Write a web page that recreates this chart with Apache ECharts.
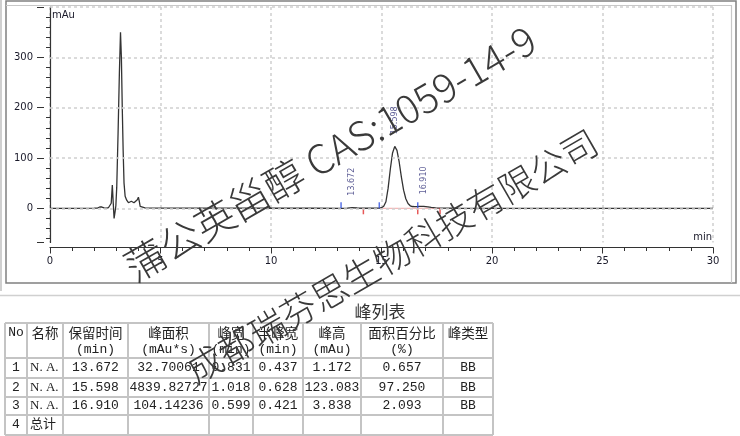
<!DOCTYPE html>
<html><head><meta charset="utf-8">
<script src="https://cdn.jsdelivr.net/npm/echarts@6/dist/echarts.min.js"></script>
<style>html,body{margin:0;padding:0;background:#fff}#c{width:740px;height:436px}</style>
</head><body><div id="c"></div>
<script>
// ---- chromatogram data ----
const traceTime = [0,1.0,2.0,2.15,2.25,2.35,2.45,2.55,2.65,2.72,2.77,2.82,2.86,2.90,2.95,2.98,3.02,3.08,3.14,3.19,3.23,3.27,3.31,3.35,3.40,3.47,3.55,3.62,3.68,3.74,3.80,3.88,3.95,4.00,4.04,4.08,4.15,4.30,5.0,6.0,8.0,10.0,12.0,13.2,13.45,13.67,13.9,14.2,14.9,15.0,15.1,15.2,15.3,15.4,15.5,15.6,15.7,15.8,15.9,16.0,16.1,16.2,16.3,16.4,16.5,16.6,16.7,16.8,16.91,17.0,17.1,17.25,17.45,17.7,18.5,20,25,30];
const traceSignal = [0,0,0.2,0.5,2.5,2.5,1.0,0.5,1.5,2.5,10,46,12,-20,-5,5,42,149,270,350,300,200,115,50,24,16,11,12,14,16,11,12,17,22,14,4,1.5,0.8,0.4,0.3,0.2,0.1,0.1,0,0.5,1.2,0.6,0.1,0.2,1.2,4,13,40,78,110,123,115,92,62,36,19,9.5,5,3.5,3.2,3.3,3.6,3.8,3.84,3.4,2.6,1.6,0.8,0.3,0.1,0,0,0];
const peakRT = [13.672, 15.598, 16.910];
const peakHeight = [1.172, 123.083, 3.838];
const peakStart = [13.17, 14.90, 16.64];
const peakEnd = [14.18, 16.64, 17.65];
const baselineTime = [14.90, 17.65];
const baselineSignal = [0, 0];
const yLabelValues = [0, 100, 200, 300];
const yMajorTicks = [-68, 0, 100, 200, 300, 400];
const yMinorTicks = [-60,-40,-20,20,40,60,80,120,140,160,180,220,240,260,280,320,340,360,380];
const yGridValues = [0, 100, 200, 300, 400];

// ---- peak table ----
const tableTitle = '峰列表';
const headerLine1 = ['No','名称','保留时间','峰面积','峰宽','半峰宽','峰高','面积百分比','峰类型'];
const headerLine2 = ['','','(min)','(mAu*s)','(min)','(min)','(mAu)','(%)',''];
const colNo = ['1','2','3','4'];
const colName = ['N. A.','N. A.','N. A.','总计'];
const colRetTime = ['13.672','15.598','16.910',''];
const colArea = ['32.70061','4839.82727','104.14236',''];
const colWidth = ['0.831','1.018','0.599',''];
const colHalfWidth = ['0.437','0.628','0.421',''];
const colHeight = ['1.172','123.083','3.838',''];
const colAreaPct = ['0.657','97.250','2.093',''];
const colType = ['BB','BB','BB',''];

const watermark1 = '蒲公英甾醇 CAS:1059-14-9';
const watermark2 = '成都瑞芬思生物科技有限公司';

const chart = echarts.init(document.getElementById('c'));
const axisFont = 'DejaVu Sans';
const tblFont = '"Liberation Mono", "Noto Sans CJK SC", monospace';

const graphics = [];
// frames
graphics.push({type:'line', shape:{x1:1,y1:0,x2:1,y2:291}, style:{stroke:'#c0c0c0', lineWidth:1.5}});
graphics.push({type:'rect', shape:{x:6,y:1,width:730,height:282}, style:{stroke:'#808080', fill:null, lineWidth:1.5}});
graphics.push({type:'polyline', shape:{points:[[6,5.5],[731.5,5.5],[731.5,283]]}, style:{stroke:'#c8c8c8', fill:null, lineWidth:1.2}});
graphics.push({type:'line', shape:{x1:0,y1:295.5,x2:740,y2:295.5}, style:{stroke:'#d0d0d0', lineWidth:1.5}});
graphics.push({type:'text', x:52, y:15, style:{text:'mAu', fontSize:10, fontFamily:axisFont, fill:'#1a1a2a', verticalAlign:'middle'}});
graphics.push({type:'text', x:712, y:237, style:{text:'min', fontSize:10, fontFamily:axisFont, fill:'#1a1a2a', align:'right', verticalAlign:'middle'}});

// table
const colX = [5, 27, 63, 128, 209, 253, 303, 361, 443, 493];
const rowY = [323, 358, 378, 397, 415, 435];
graphics.push({type:'text', x:380, y:312, style:{text:tableTitle, fontSize:17, fontFamily:'Noto Sans CJK SC', fill:'#333', align:'center', verticalAlign:'middle'}});
rowY.forEach(y => graphics.push({type:'line', shape:{x1:colX[0],y1:y,x2:colX[colX.length-1],y2:y}, style:{stroke:'#c4c4c4', lineWidth:2}}));
colX.forEach(x => graphics.push({type:'line', shape:{x1:x,y1:rowY[0],x2:x,y2:rowY[rowY.length-1]}, style:{stroke:'#c4c4c4', lineWidth:2}}));
const tstyle = (text, align, font, size) => ({text, fontSize:size||13, fontFamily:font||tblFont, fill:'#222', align:align||'center', verticalAlign:'middle'});
headerLine1.forEach((h,i) => {
  const cx = (colX[i]+colX[i+1])/2;
  graphics.push({type:'text', x:cx, y:333, style:tstyle(h, 'center', i===0 ? tblFont : '"Noto Sans CJK SC"', i===0 ? 13 : 13.5)});
  if (headerLine2[i]) graphics.push({type:'text', x:cx, y:350, style:tstyle(headerLine2[i])});
});
const cols = [colNo, colName, colRetTime, colArea, colWidth, colHalfWidth, colHeight, colAreaPct, colType];
for (let r = 0; r < 4; r++) {
  const cy = (rowY[r+1]+rowY[r+2])/2;
  cols.forEach((col, i) => {
    if (!col[r]) return;
    if (i === 1) graphics.push({type:'text', x:colX[1]+3, y:cy, style:tstyle(col[r], 'left', '"Liberation Serif", "Noto Sans CJK SC"', 13)});
    else graphics.push({type:'text', x:(colX[i]+colX[i+1])/2, y:cy, style:tstyle(col[r])});
  });
}
// watermark
graphics.push({type:'text', x:330, y:153, rotation:30*Math.PI/180, z:100, style:{text:watermark1, fontSize:40, fontFamily:'Noto Sans CJK SC', fontWeight:300, fill:'#3a3a3a', align:'center', verticalAlign:'middle'}});
graphics.push({type:'text', x:392, y:256, rotation:30*Math.PI/180, z:100, style:{text:watermark2, fontSize:36, fontFamily:'Noto Sans CJK SC', fontWeight:300, fill:'#3a3a3a', align:'center', verticalAlign:'middle'}});

const option = {
  animation: false,
  backgroundColor: '#fff',
  grid: {left:50, right:27, top:7, bottom:193.5, outerBoundsMode:'none', containLabel:false},
  xAxis: {
    type:'value', min:0, max:30, interval:5, offset:5,
    axisLine:{show:true, onZero:false, lineStyle:{color:'#333', width:1.2}},
    axisTick:{show:true, length:6, lineStyle:{color:'#333'}},
    minorTick:{show:true, splitNumber:5, length:3.5, lineStyle:{color:'#333'}},
    axisLabel:{fontSize:10, fontFamily:axisFont, color:'#1a1a2a', margin:9},
    splitLine:{show:true, lineStyle:{color:'#cfcfcf', type:[3,3], width:1.5}}
  },
  yAxis: [
    {type:'value', min:-68, max:400, position:'left', offset:6,
     axisLine:{show:true, lineStyle:{color:'#333', width:1.2}},
     axisTick:{show:true, length:4, customValues:yMinorTicks, lineStyle:{color:'#333'}},
     axisLabel:{show:false}, splitLine:{show:false}},
    {type:'value', min:-68, max:400, position:'left', offset:6,
     axisLine:{show:false},
     axisTick:{show:true, length:7, customValues:yMajorTicks, lineStyle:{color:'#333'}},
     axisLabel:{show:true, customValues:yLabelValues, fontSize:10, fontFamily:axisFont, color:'#1a1a2a', margin:11},
     splitLine:{show:false}}
  ],
  series: [
    {type:'line', z:2, data: baselineTime.map((t,i)=>[t, baselineSignal[i]]), showSymbol:false, lineStyle:{color:'#f2a6a6', width:1}, silent:true},
    {type:'line', z:3, data: traceTime.map((t,i)=>[t, traceSignal[i]]), showSymbol:false, lineStyle:{color:'#333', width:1.3}, silent:true,
     markLine:{silent:true, symbol:['none','none'], label:{show:false}, lineStyle:{color:'#cfcfcf', type:[3,3], width:1.5}, data: yGridValues.map(v=>({yAxis:v}))}},
    {type:'scatter', z:4, data: peakStart.map(t=>[t,0]), symbol:'rect', symbolSize:[1.5,6], symbolOffset:[0,-3], itemStyle:{color:'#3050e0'}, silent:true},
    {type:'scatter', z:4, data: peakEnd.map(t=>[t,0]), symbol:'rect', symbolSize:[1.5,6], symbolOffset:[0,3], itemStyle:{color:'#e03030'}, silent:true},
    {type:'scatter', z:5, data: peakRT.map((t,i)=>[t, peakHeight[i]]), symbolSize:0, silent:true,
     label:{show:true, position:'top', distance:12, rotate:90, align:'left', verticalAlign:'middle', fontSize:8, fontFamily:axisFont, color:'#33337a',
            formatter: p => p.value[0].toFixed(3)}}
  ],
  graphic: graphics
};
chart.setOption(option);
</script></body></html>
